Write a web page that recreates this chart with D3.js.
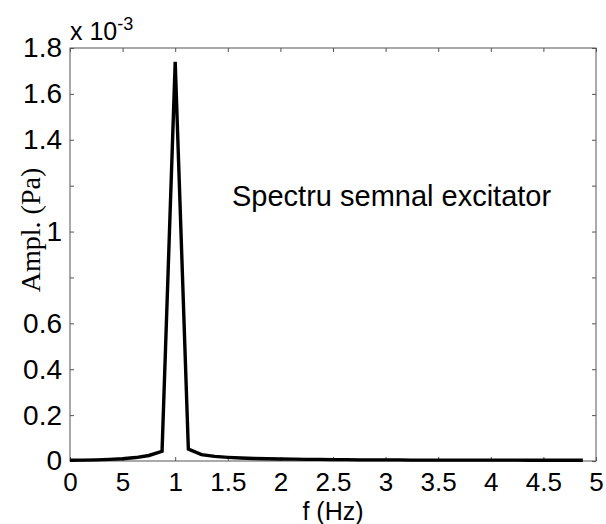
<!DOCTYPE html>
<html>
<head>
<meta charset="utf-8">
<script src="https://cdn.jsdelivr.net/npm/d3@7"></script>
<style>
	body { margin: 0; background: #fff; }
	text { fill: #000; }
</style>
</head>
<body>
<div id="chart"></div>
<script>
// frequency (Hz) and amplitude (x 1e-3 Pa)
var freq = [0, 0.125, 0.25, 0.375, 0.5, 0.625, 0.75, 0.875, 1, 1.125, 1.25, 1.375, 1.5, 1.625, 1.75, 1.875,
	2, 2.125, 2.25, 2.375, 2.5, 2.625, 2.75, 2.875, 3, 3.125, 3.25, 3.375, 3.5, 3.625, 3.75, 3.875,
	4, 4.125, 4.25, 4.375, 4.5, 4.625, 4.75, 4.875];
var ampl = [0.003, 0.004, 0.005, 0.007, 0.010, 0.015, 0.024, 0.042, 1.74, 0.052, 0.028, 0.020, 0.016, 0.013, 0.011, 0.010,
	0.009, 0.008, 0.007, 0.007, 0.006, 0.006, 0.005, 0.005, 0.005, 0.005, 0.004, 0.004, 0.004, 0.004, 0.004, 0.004,
	0.004, 0.004, 0.004, 0.003, 0.003, 0.003, 0.003, 0.003];

var xTicks = [0, 0.5, 1, 1.5, 2, 2.5, 3, 3.5, 4, 4.5, 5];
var xTickLabels = ["0", "5", "1", "1.5", "2", "2.5", "3", "3.5", "4", "4.5", "5"];
var yTicks = [0, 0.2, 0.4, 0.6, 0.8, 1, 1.2, 1.4, 1.6, 1.8];
var yTickLabels = ["0", "0.2", "0.4", "0.6", "", "1", "", "1.4", "1.6", "1.8"];

var W = 606, H = 524;
var margin = {top: 48, right: 10, bottom: 63, left: 70};
var width = W - margin.left - margin.right;
var height = H - margin.top - margin.bottom;

var svg = d3.select("#chart")
	.append("svg")
	.attr("width", W)
	.attr("height", H);

var g = svg.append("g")
	.attr("transform", "translate(" + margin.left + "," + margin.top + ")");

var x = d3.scaleLinear().domain([0, 5]).range([0, width]);
var y = d3.scaleLinear().domain([0, 1.8]).range([height, 0]);

function styleAxis(sel, showText, size) {
	sel.select(".domain").remove();
	sel.selectAll(".tick line").attr("stroke", "#555").attr("stroke-width", 1);
	sel.selectAll("text")
		.style("font-family", "'Liberation Sans', Arial, sans-serif")
		.style("font-size", size + "px")
		.attr("fill", "#000");
	if (!showText) sel.selectAll("text").remove();
}

// bottom and left axes with labels, ticks pointing inward
g.append("g")
	.attr("transform", "translate(0," + height + ")")
	.call(d3.axisBottom(x).tickValues(xTicks).tickSize(-4).tickPadding(12)
		.tickFormat(function(d, i) { return xTickLabels[i]; }))
	.call(styleAxis, true, 26);

g.append("g")
	.call(d3.axisLeft(y).tickValues(yTicks).tickSize(-4).tickPadding(8)
		.tickFormat(function(d, i) { return yTickLabels[i]; }))
	.call(styleAxis, true, 28);

// top and right axes, ticks only
g.append("g")
	.call(d3.axisTop(x).tickValues(xTicks).tickSize(-4))
	.call(styleAxis, false, 28);

g.append("g")
	.attr("transform", "translate(" + width + ",0)")
	.call(d3.axisRight(y).tickValues(yTicks).tickSize(-4))
	.call(styleAxis, false, 28);

// box
g.append("rect")
	.attr("x", 0)
	.attr("y", 0)
	.attr("width", width)
	.attr("height", height)
	.attr("fill", "none")
	.attr("stroke", "#555")
	.attr("stroke-width", 1);

var line = d3.line()
	.x(function(d, i) { return x(freq[i]); })
	.y(function(d) { return y(d); });

g.append("path")
	.datum(ampl)
	.attr("d", line)
	.attr("fill", "none")
	.attr("stroke", "#000")
	.attr("stroke-width", 3.4)
	.attr("stroke-linejoin", "miter");

// annotation inside the plot
g.append("text")
	.attr("x", 232 - margin.left)
	.attr("y", 206 - margin.top)
	.style("font-family", "'Liberation Sans', Arial, sans-serif")
	.style("font-size", "29px")
	.text("Spectru semnal excitator");

// exponent label
var expo = svg.append("text")
	.attr("x", 70)
	.attr("y", 40)
	.style("font-family", "'Liberation Sans', Arial, sans-serif")
	.style("font-size", "25px");
expo.append("tspan").text("x 10");
expo.append("tspan")
	.attr("dy", -10)
	.style("font-size", "18px")
	.text("-3");

// axis titles
svg.append("text")
	.attr("x", margin.left + width / 2)
	.attr("y", 520)
	.attr("text-anchor", "middle")
	.style("font-family", "'Liberation Sans', Arial, sans-serif")
	.style("font-size", "25px")
	.text("f (Hz)");

svg.append("text")
	.attr("transform", "translate(40,230) rotate(-90)")
	.attr("text-anchor", "middle")
	.style("font-family", "'Liberation Serif', 'Times New Roman', serif")
	.style("font-size", "28px")
	.text("Ampl. (Pa)");
</script>
</body>
</html>
